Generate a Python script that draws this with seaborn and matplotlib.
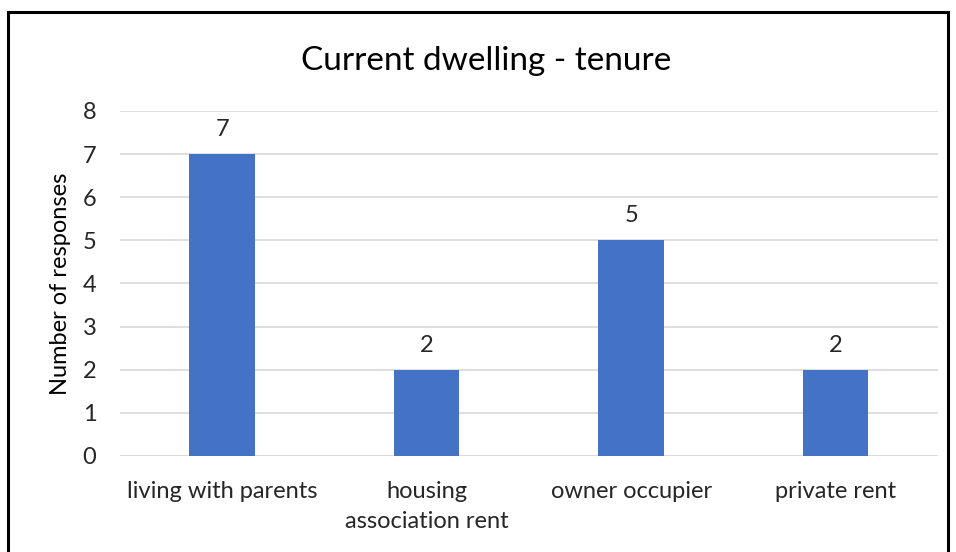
import matplotlib
matplotlib.use("Agg")
import matplotlib.pyplot as plt
import seaborn as sns
import pandas as pd
from matplotlib.patches import Rectangle

# chart data
categories = ["living with parents", "housing\nassociation rent", "owner occupier", "private rent"]
responses = [7, 2, 5, 2]
y_ticks = [0, 1, 2, 3, 4, 5, 6, 7, 8]

df = pd.DataFrame({"tenure": categories, "responses": responses})

sns.set_style("white")
plt.rcParams["font.family"] = ["Lato", "DejaVu Sans"]

fig = plt.figure(figsize=(9.56, 5.52), dpi=100)
ax = fig.add_axes([0.1255, 0.174, 0.8555, 0.625])

sns.barplot(data=df, x="tenure", y="responses", color="#4472C4", width=0.32,
            saturation=1, linewidth=0, ax=ax, zorder=3)

# value labels
for c in ax.containers:
    ax.bar_label(c, padding=10, fontsize=17, color="#262626")

ax.set_ylim(0, 8)
ax.set_yticks(y_ticks)
ax.set_xlim(-0.5, len(categories) - 0.5)
ax.yaxis.grid(True, color="#d9d9d9", lw=1.2, zorder=0)
ax.set_axisbelow(True)
sns.despine(ax=ax, left=True, bottom=True)
ax.axhline(0, color="#d9d9d9", lw=1.2, zorder=1)

ax.tick_params(axis="both", length=0, labelsize=17, colors="#262626")
ax.tick_params(axis="y", pad=17)
ax.tick_params(axis="x", pad=18)
for t in ax.get_xticklabels():
    t.set_linespacing(1.55)
    t.set_verticalalignment("top")

ax.set_xlabel("")
ax.set_ylabel("Number of responses", fontsize=17, color="#000000", labelpad=8)
fig.text(0.508, 0.89, "Current dwelling - tenure", ha="center", va="center",
         fontsize=24, color="#000000")

# outer frame
fig.patches.append(Rectangle((8 / 956, -0.05), 940 / 956, (552 - 12) / 552 + 0.05,
                             transform=fig.transFigure, fill=False,
                             edgecolor="black", lw=2.2, zorder=10))

fig.savefig("out.png", dpi=100)
